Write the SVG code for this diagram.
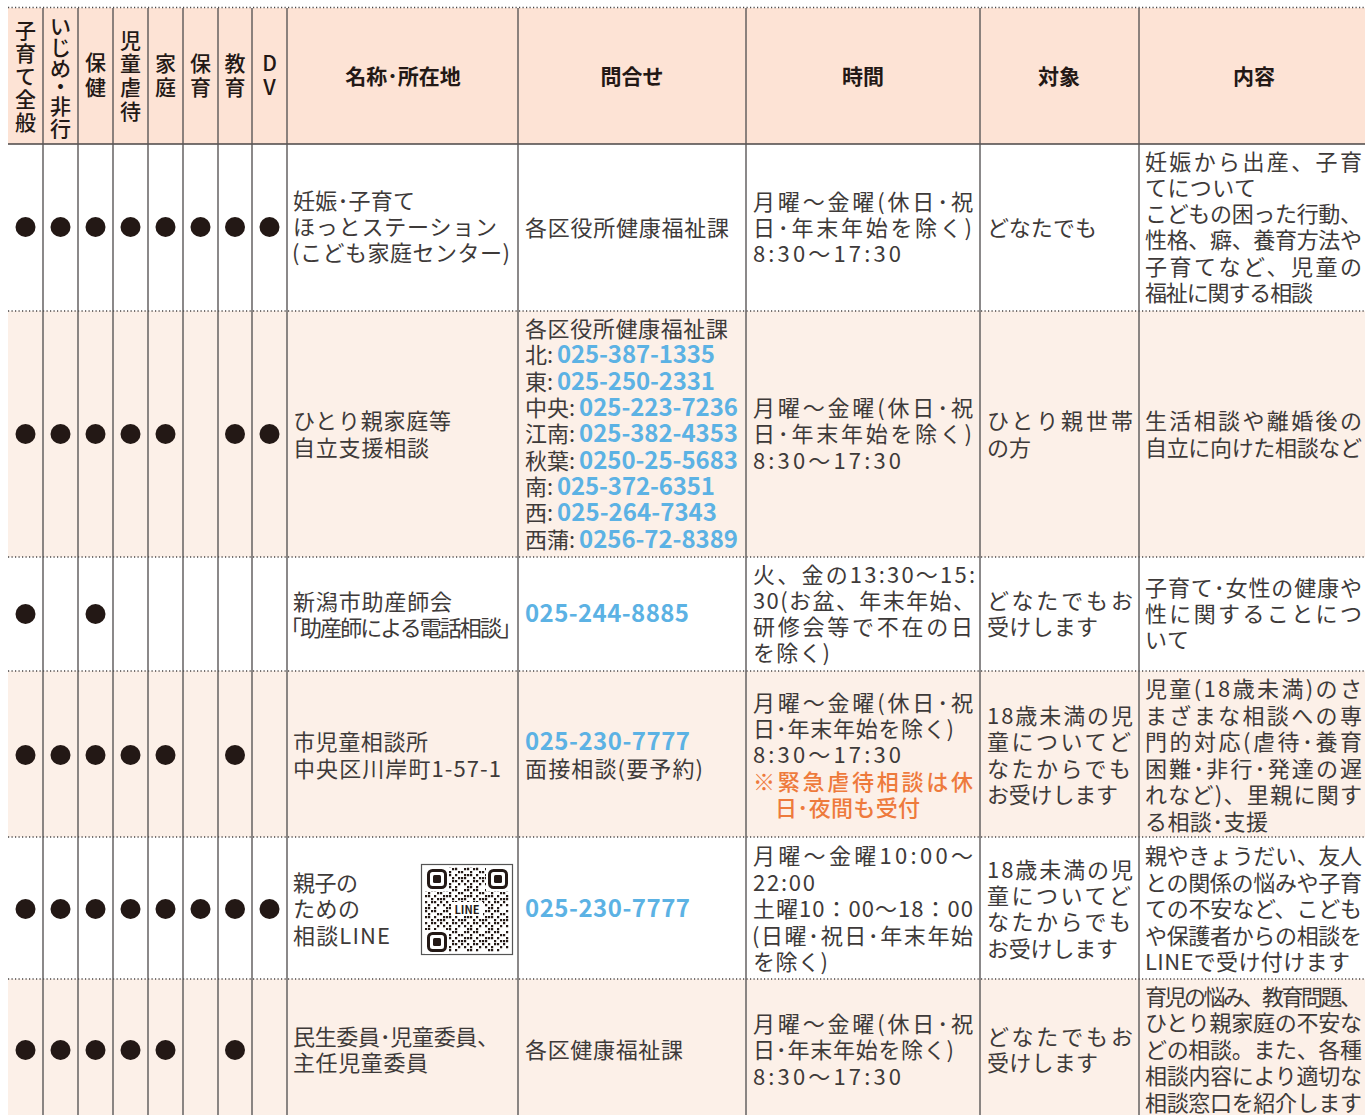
<svg xmlns="http://www.w3.org/2000/svg" width="1365" height="1115" viewBox="0 0 1365 1115">
<style>
text{font-family:"Noto Sans CJK JP","Noto Sans CJK SC",sans-serif;font-size:22px;fill:#3e3a39}
.h{font-weight:700;font-size:21px;fill:#231815;text-anchor:middle}
.v{font-weight:500}
.b{fill:#5cb2e4;font-weight:700;font-size:24px}
.o{fill:#ee7a3c;font-weight:500}
.vl{stroke:#5a5758;stroke-width:1.4}
.dl{stroke:#4a4646;stroke-width:1.3;stroke-dasharray:1.2 2.3}
.dot{fill:#231815}
</style>
<defs>
<circle id="d" r="10" class="dot"/>
<pattern id="qr" patternUnits="userSpaceOnUse" x="425" y="868" width="21" height="21">
<path fill="#231815" d="M0 0h2.2v2.2h-2.2zM6 0h2.2v2.2h-2.2zM9 0h2.2v2.2h-2.2zM18 0h2.2v2.2h-2.2zM3 3h2.2v2.2h-2.2zM12 3h2.2v2.2h-2.2zM15 3h2.2v2.2h-2.2zM0 6h2.2v2.2h-2.2zM3 6h2.2v2.2h-2.2zM9 6h2.2v2.2h-2.2zM18 6h2.2v2.2h-2.2zM6 9h2.2v2.2h-2.2zM12 9h2.2v2.2h-2.2zM15 9h2.2v2.2h-2.2zM18 9h2.2v2.2h-2.2zM0 12h2.2v2.2h-2.2zM6 12h2.2v2.2h-2.2zM9 12h2.2v2.2h-2.2zM15 12h2.2v2.2h-2.2zM3 15h2.2v2.2h-2.2zM12 15h2.2v2.2h-2.2zM18 15h2.2v2.2h-2.2zM0 18h2.2v2.2h-2.2zM3 18h2.2v2.2h-2.2zM9 18h2.2v2.2h-2.2z"/>
</pattern>
</defs>

<rect x="0" y="0" width="1365" height="1115" fill="#fff"/>

<g id="backgrounds">
<rect x="8" y="8" width="1357" height="136" fill="#fde3d5"/>
<rect x="8" y="311" width="1357" height="246" fill="#fcf0e8"/>
<rect x="8" y="671" width="1357" height="166" fill="#fcf0e8"/>
<rect x="8" y="979" width="1357" height="136" fill="#fcf0e8"/>
</g>

<g id="connectors">
<line class="dl" x1="8" y1="7.5" x2="1365" y2="7.5"/>
<line x1="8" y1="144" x2="1365" y2="144" stroke="#4a4646" stroke-width="1.6"/>
<line class="dl" x1="8" y1="311" x2="1365" y2="311"/>
<line class="dl" x1="8" y1="557" x2="1365" y2="557"/>
<line class="dl" x1="8" y1="671" x2="1365" y2="671"/>
<line class="dl" x1="8" y1="837" x2="1365" y2="837"/>
<line class="dl" x1="8" y1="979" x2="1365" y2="979"/>
<line class="vl" x1="43" y1="8" x2="43" y2="1115"/>
<line class="vl" x1="78" y1="8" x2="78" y2="1115"/>
<line class="vl" x1="113" y1="8" x2="113" y2="1115"/>
<line class="vl" x1="148" y1="8" x2="148" y2="1115"/>
<line class="vl" x1="183" y1="8" x2="183" y2="1115"/>
<line class="vl" x1="218" y1="8" x2="218" y2="1115"/>
<line class="vl" x1="252" y1="8" x2="252" y2="1115"/>
<line class="vl" x1="287" y1="8" x2="287" y2="1115"/>
<line class="vl" x1="518" y1="8" x2="518" y2="1115"/>
<line class="vl" x1="746" y1="8" x2="746" y2="1115"/>
<line class="vl" x1="980" y1="8" x2="980" y2="1115"/>
<line class="vl" x1="1139" y1="8" x2="1139" y2="1115"/>
</g>

<g id="header">
<text class="h v" x="25.5" y="38">子</text><text class="h v" x="25.5" y="61">育</text><text class="h v" x="25.5" y="84">て</text><text class="h v" x="25.5" y="107">全</text><text class="h v" x="25.5" y="130">般</text>
<text class="h v" x="60.5" y="34">い</text><text class="h v" x="60.5" y="55">じ</text><text class="h v" x="60.5" y="76">め</text><text class="h v" x="60.5" y="94">・</text><text class="h v" x="60.5" y="114">非</text><text class="h v" x="60.5" y="136">行</text>
<text class="h v" x="95.5" y="70">保</text><text class="h v" x="95.5" y="95">健</text>
<text class="h v" x="130.5" y="48">児</text><text class="h v" x="130.5" y="71">童</text><text class="h v" x="130.5" y="95">虐</text><text class="h v" x="130.5" y="119">待</text>
<text class="h v" x="165.5" y="71">家</text><text class="h v" x="165.5" y="95">庭</text>
<text class="h v" x="200.5" y="71">保</text><text class="h v" x="200.5" y="95">育</text>
<text class="h v" x="235" y="71">教</text><text class="h v" x="235" y="95">育</text>
<text class="h v" x="269.5" y="71">D</text><text class="h v" x="269.5" y="95">V</text>
<text class="h" x="403" y="84">名称･所在地</text>
<text class="h" x="632" y="84">問合せ</text>
<text class="h" x="863" y="84">時間</text>
<text class="h" x="1059" y="84">対象</text>
<text class="h" x="1254" y="84">内容</text>
</g>

<g id="row1">
<use href="#d" x="25.5" y="227"/><use href="#d" x="60.5" y="227"/><use href="#d" x="95.5" y="227"/><use href="#d" x="130.5" y="227"/><use href="#d" x="165.5" y="227"/><use href="#d" x="200.5" y="227"/><use href="#d" x="235" y="227"/><use href="#d" x="269.5" y="227"/>
<text x="293" y="209" textLength="122">妊娠･子育て</text>
<text x="293" y="235" textLength="204">ほっとステーション</text>
<text x="292" y="261" textLength="218">(こども家庭センター)</text>
<text x="525" y="236" textLength="204">各区役所健康福祉課</text>
<text x="753" y="210" textLength="220">月曜～金曜(休日･祝</text>
<text x="753" y="236" textLength="219">日･年末年始を除く)</text>
<text x="753" y="262" textLength="148">8:30～17:30</text>
<text x="987" y="236" textLength="110">どなたでも</text>
<text x="1145" y="170" textLength="217">妊娠から出産、子育</text>
<text x="1145" y="196" textLength="111">てについて</text>
<text x="1145" y="222" textLength="217">こどもの困った行動、</text>
<text x="1145" y="248" textLength="217">性格、癖、養育方法や</text>
<text x="1145" y="275" textLength="217">子育てなど、児童の</text>
<text x="1145" y="301" textLength="168">福祉に関する相談</text>
</g>

<g id="row2">
<use href="#d" x="25.5" y="434"/><use href="#d" x="60.5" y="434"/><use href="#d" x="95.5" y="434"/><use href="#d" x="130.5" y="434"/><use href="#d" x="165.5" y="434"/><use href="#d" x="235" y="434"/><use href="#d" x="269.5" y="434"/>
<text x="293" y="429" textLength="158">ひとり親家庭等</text>
<text x="293" y="456" textLength="136">自立支援相談</text>
<text x="525" y="337" textLength="203">各区役所健康福祉課</text>
<text x="525" y="363">北:</text><text class="b" x="557" y="363" textLength="158">025-387-1335</text>
<text x="525" y="390">東:</text><text class="b" x="557" y="390" textLength="158">025-250-2331</text>
<text x="525" y="416">中央:</text><text class="b" x="579" y="416" textLength="159">025-223-7236</text>
<text x="525" y="442">江南:</text><text class="b" x="579" y="442" textLength="159">025-382-4353</text>
<text x="525" y="469">秋葉:</text><text class="b" x="579" y="469" textLength="159">0250-25-5683</text>
<text x="525" y="495">南:</text><text class="b" x="557" y="495" textLength="158">025-372-6351</text>
<text x="525" y="521">西:</text><text class="b" x="557" y="521" textLength="160">025-264-7343</text>
<text x="525" y="548">西蒲:</text><text class="b" x="579" y="548" textLength="159">0256-72-8389</text>
<text x="753" y="416" textLength="220">月曜～金曜(休日･祝</text>
<text x="753" y="442" textLength="219">日･年末年始を除く)</text>
<text x="753" y="469" textLength="148">8:30～17:30</text>
<text x="987" y="429" textLength="146">ひとり親世帯</text>
<text x="987" y="456" textLength="44">の方</text>
<text x="1145" y="429" textLength="217">生活相談や離婚後の</text>
<text x="1145" y="456" textLength="217">自立に向けた相談など</text>
</g>

<g id="row3">
<use href="#d" x="25.5" y="614"/><use href="#d" x="95.5" y="614"/>
<text x="293" y="610" textLength="159">新潟市助産師会</text>
<text x="291" y="636" textLength="220">｢助産師による電話相談｣</text>
<text class="b" x="525" y="622" textLength="164">025-244-8885</text>
<text x="753" y="583" textLength="222">火、金の13:30～15:</text>
<text x="753" y="609" textLength="222">30(お盆、年末年始、</text>
<text x="753" y="635" textLength="220">研修会等で不在の日</text>
<text x="753" y="661" textLength="77">を除く)</text>
<text x="987" y="609" textLength="146">どなたでもお</text>
<text x="987" y="635" textLength="111">受けします</text>
<text x="1145" y="596" textLength="217">子育て･女性の健康や</text>
<text x="1145" y="622" textLength="217">性に関することにつ</text>
<text x="1145" y="648" textLength="44">いて</text>
</g>

<g id="row4">
<use href="#d" x="25.5" y="755"/><use href="#d" x="60.5" y="755"/><use href="#d" x="95.5" y="755"/><use href="#d" x="130.5" y="755"/><use href="#d" x="165.5" y="755"/><use href="#d" x="235" y="755"/>
<text x="293" y="750" textLength="135">市児童相談所</text>
<text x="293" y="777" textLength="208">中央区川岸町1-57-1</text>
<text class="b" x="525" y="750" textLength="165">025-230-7777</text>
<text x="525" y="777" textLength="178">面接相談(要予約)</text>
<text x="753" y="711" textLength="220">月曜～金曜(休日･祝</text>
<text x="753" y="737" textLength="201">日･年末年始を除く)</text>
<text x="753" y="763" textLength="148">8:30～17:30</text>
<text class="o" x="753" y="790" textLength="220">※緊急虐待相談は休</text>
<text class="o" x="775" y="816" textLength="145">日･夜間も受付</text>
<text x="987" y="724" textLength="146">18歳未満の児</text>
<text x="987" y="750" textLength="144">童についてど</text>
<text x="987" y="777" textLength="144">なたからでも</text>
<text x="987" y="803" textLength="131">お受けします</text>
<text x="1145" y="697" textLength="217">児童(18歳未満)のさ</text>
<text x="1145" y="724" textLength="217">まざまな相談への専</text>
<text x="1145" y="750" textLength="217">門的対応(虐待･養育</text>
<text x="1145" y="777" textLength="217">困難･非行･発達の遅</text>
<text x="1145" y="803" textLength="217">れなど)、里親に関す</text>
<text x="1145" y="830" textLength="123">る相談･支援</text>
</g>

<g id="row5">
<use href="#d" x="25.5" y="909"/><use href="#d" x="60.5" y="909"/><use href="#d" x="95.5" y="909"/><use href="#d" x="130.5" y="909"/><use href="#d" x="165.5" y="909"/><use href="#d" x="200.5" y="909"/><use href="#d" x="235" y="909"/><use href="#d" x="269.5" y="909"/>
<text x="293" y="891" textLength="65">親子の</text>
<text x="293" y="917" textLength="67">ための</text>
<text x="293" y="944" textLength="97">相談LINE</text>
<g id="qrcode">
<rect x="421.5" y="864.5" width="91" height="90" fill="#fff" stroke="#555" stroke-width="1.2"/>
<rect x="425" y="867" width="84" height="85" fill="url(#qr)"/>
<rect x="425" y="867" width="24" height="24" fill="#fff"/>
<rect x="428.5" y="870.5" width="17" height="17" rx="4" fill="none" stroke="#231815" stroke-width="3"/>
<rect x="433" y="875" width="8" height="8" rx="1.5" fill="#231815"/>
<rect x="486" y="867" width="24" height="24" fill="#fff"/>
<rect x="489.5" y="870.5" width="17" height="17" rx="4" fill="none" stroke="#231815" stroke-width="3"/>
<rect x="494" y="875" width="8" height="8" rx="1.5" fill="#231815"/>
<rect x="425" y="930" width="24" height="24" fill="#fff"/>
<rect x="428.5" y="933.5" width="17" height="17" rx="4" fill="none" stroke="#231815" stroke-width="3"/>
<rect x="433" y="938" width="8" height="8" rx="1.5" fill="#231815"/>
<rect x="451" y="902" width="32" height="14" fill="#fff"/>
<text x="467" y="913.5" text-anchor="middle" style="font-size:11px;font-weight:700;fill:#231815">LINE</text>
</g>
<text class="b" x="525" y="917" textLength="165">025-230-7777</text>
<text x="753" y="864" textLength="220">月曜～金曜10:00～</text>
<text x="753" y="891" textLength="62">22:00</text>
<text x="753" y="917" textLength="220">土曜10：00～18：00</text>
<text x="752" y="944" textLength="221">(日曜･祝日･年末年始</text>
<text x="753" y="970" textLength="75">を除く)</text>
<text x="987" y="878" textLength="146">18歳未満の児</text>
<text x="987" y="904" textLength="144">童についてど</text>
<text x="987" y="930" textLength="144">なたからでも</text>
<text x="987" y="957" textLength="131">お受けします</text>
<text x="1145" y="864" textLength="217">親やきょうだい、友人</text>
<text x="1145" y="891" textLength="217">との関係の悩みや子育</text>
<text x="1145" y="917" textLength="217">ての不安など、こども</text>
<text x="1145" y="944" textLength="217">や保護者からの相談を</text>
<text x="1145" y="970" textLength="205">LINEで受け付けます</text>
</g>

<g id="row6">
<use href="#d" x="25.5" y="1050"/><use href="#d" x="60.5" y="1050"/><use href="#d" x="95.5" y="1050"/><use href="#d" x="130.5" y="1050"/><use href="#d" x="165.5" y="1050"/><use href="#d" x="235" y="1050"/>
<text x="293" y="1045" textLength="206">民生委員･児童委員、</text>
<text x="293" y="1071" textLength="135">主任児童委員</text>
<text x="525" y="1058" textLength="158">各区健康福祉課</text>
<text x="753" y="1032" textLength="220">月曜～金曜(休日･祝</text>
<text x="753" y="1058" textLength="201">日･年末年始を除く)</text>
<text x="753" y="1085" textLength="148">8:30～17:30</text>
<text x="987" y="1045" textLength="146">どなたでもお</text>
<text x="987" y="1071" textLength="111">受けします</text>
<text x="1145" y="1005" textLength="217">育児の悩み、教育問題、</text>
<text x="1145" y="1031" textLength="217">ひとり親家庭の不安な</text>
<text x="1145" y="1058" textLength="217">どの相談。また、各種</text>
<text x="1145" y="1084" textLength="217">相談内容により適切な</text>
<text x="1145" y="1111" textLength="217">相談窓口を紹介します</text>
</g>
</svg>
